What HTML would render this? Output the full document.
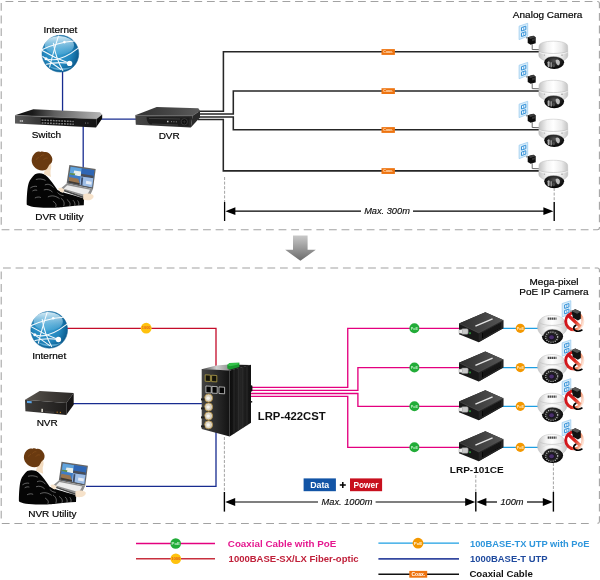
<!DOCTYPE html>
<html>
<head>
<meta charset="utf-8">
<title>LRP-422CST Application</title>
<style>
html,body{margin:0;padding:0;background:#fff;}
body{width:600px;height:580px;overflow:hidden;font-family:"Liberation Sans",sans-serif;}
svg{display:block;}
text{font-family:"Liberation Sans",sans-serif;}
svg{will-change:transform;}
.lbl{font-size:9.4px;fill:#000;stroke:#000;stroke-width:0.18px;}
.bold{font-size:9.4px;font-weight:bold;fill:#111;}
.dim{font-size:8.7px;font-style:italic;fill:#111;stroke:#111;stroke-width:0.15px;}
.leg{font-size:9.6px;font-weight:bold;}
</style>
</head>
<body>
<svg width="600" height="580" viewBox="0 0 600 580">
<defs>
  <!-- gradients -->
  <radialGradient id="gGlobe" cx="0.42" cy="0.45" r="0.62">
    <stop offset="0" stop-color="#3ba0d2"/>
    <stop offset="0.6" stop-color="#2286bd"/>
    <stop offset="0.88" stop-color="#0f6498"/>
    <stop offset="1" stop-color="#0a4f80"/>
  </radialGradient>
  <linearGradient id="gGloss" x1="0" y1="0" x2="0" y2="1">
    <stop offset="0" stop-color="#e8f6fc" stop-opacity="0.92"/>
    <stop offset="1" stop-color="#7cc6ea" stop-opacity="0.2"/>
  </linearGradient>
  <linearGradient id="gArrow" x1="0" y1="0" x2="0" y2="1">
    <stop offset="0" stop-color="#c9c9c9"/>
    <stop offset="1" stop-color="#6a6a6a"/>
  </linearGradient>
  <linearGradient id="gSwTop" x1="0" y1="0" x2="1" y2="0">
    <stop offset="0" stop-color="#0e0e0e"/>
    <stop offset="0.2" stop-color="#1a1a1a"/>
    <stop offset="0.45" stop-color="#5e5e5e"/>
    <stop offset="0.8" stop-color="#979797"/>
    <stop offset="1" stop-color="#b8b8b8"/>
  </linearGradient>
  <linearGradient id="gSwFront" x1="0" y1="0" x2="1" y2="0">
    <stop offset="0" stop-color="#5c5c5c"/>
    <stop offset="0.25" stop-color="#3a3a3a"/>
    <stop offset="0.6" stop-color="#1e1e1e"/>
    <stop offset="1" stop-color="#141414"/>
  </linearGradient>
  <linearGradient id="gDvrTop" x1="0" y1="0" x2="1" y2="0">
    <stop offset="0" stop-color="#303030"/>
    <stop offset="0.6" stop-color="#484848"/>
    <stop offset="1" stop-color="#5c5c5c"/>
  </linearGradient>
  <linearGradient id="gDvrFront" x1="0" y1="0" x2="1" y2="0">
    <stop offset="0" stop-color="#464646"/>
    <stop offset="0.5" stop-color="#343434"/>
    <stop offset="1" stop-color="#262626"/>
  </linearGradient>
  <linearGradient id="gCamBody" x1="0" y1="0" x2="1" y2="0">
    <stop offset="0" stop-color="#c2c2c2"/>
    <stop offset="0.28" stop-color="#f2f2f2"/>
    <stop offset="0.5" stop-color="#ffffff"/>
    <stop offset="0.78" stop-color="#ececec"/>
    <stop offset="1" stop-color="#c4c4c4"/>
  </linearGradient>
  <radialGradient id="gLens" cx="0.5" cy="0.4" r="0.6">
    <stop offset="0" stop-color="#555"/>
    <stop offset="0.6" stop-color="#1c1c1c"/>
    <stop offset="1" stop-color="#000"/>
  </radialGradient>
  <linearGradient id="gNo" x1="0" y1="0.3" x2="1" y2="0.6">
    <stop offset="0" stop-color="#d0101a"/>
    <stop offset="0.5" stop-color="#dc2a20"/>
    <stop offset="0.78" stop-color="#f2906a"/>
    <stop offset="1" stop-color="#fde3d6"/>
  </linearGradient>
  <linearGradient id="gNo2" gradientUnits="userSpaceOnUse" x1="-6" y1="-6" x2="6" y2="6">
    <stop offset="0" stop-color="#cf0f1a"/>
    <stop offset="0.55" stop-color="#dc2a20"/>
    <stop offset="1" stop-color="#f4a07c"/>
  </linearGradient>
  <linearGradient id="gConvTop" x1="0" y1="0" x2="1" y2="0">
    <stop offset="0" stop-color="#2e2e2e"/>
    <stop offset="1" stop-color="#555"/>
  </linearGradient>
  <linearGradient id="gIndFront" x1="0" y1="0" x2="1" y2="0">
    <stop offset="0" stop-color="#444"/>
    <stop offset="0.5" stop-color="#2c2c2c"/>
    <stop offset="1" stop-color="#121212"/>
  </linearGradient>
  <linearGradient id="gNvrTop" x1="0" y1="0" x2="1" y2="0">
    <stop offset="0" stop-color="#5a5650"/>
    <stop offset="0.5" stop-color="#403c38"/>
    <stop offset="1" stop-color="#2c2a28"/>
  </linearGradient>
  <linearGradient id="gNvrFront" x1="0" y1="0" x2="1" y2="0">
    <stop offset="0" stop-color="#3e3c3a"/>
    <stop offset="1" stop-color="#1e1c1b"/>
  </linearGradient>
  <linearGradient id="gIndTop" x1="0" y1="0" x2="1" y2="0">
    <stop offset="0" stop-color="#3a3a3a"/>
    <stop offset="0.3" stop-color="#cfcfcf"/>
    <stop offset="0.52" stop-color="#9a9a9a"/>
    <stop offset="0.6" stop-color="#222"/>
    <stop offset="1" stop-color="#161616"/>
  </linearGradient>
  <linearGradient id="gIndSide" x1="0" y1="0" x2="1" y2="0">
    <stop offset="0" stop-color="#0c0c0c"/>
    <stop offset="0.5" stop-color="#252525"/>
    <stop offset="1" stop-color="#111"/>
  </linearGradient>

  <!-- globe centred at 0,0 r=18.5 -->
  <g id="globe">
    <circle r="18.4" fill="url(#gGlobe)" stroke="#15669b" stroke-width="0.5"/>
    <ellipse cx="-1" cy="-8.4" rx="14.6" ry="9.4" fill="url(#gGloss)"/>
    <path d="M-12,12 C-6,17.6 6,18.4 13,12.4 C7,15.4 -5,15.4 -12,12 Z" fill="#8fd3f2" opacity="0.55"/>
    <g fill="none" stroke="#fff" stroke-width="1.05" stroke-linecap="round" opacity="0.95">
      <path d="M-18.4,-4 C-9,-8.6 2,-11.6 14,-12.6"/>
      <path d="M-2,-17.6 C-5,-8 -8.6,4 -10.8,13.4"/>
      <path d="M-7,-10.4 C-5.4,-1 -2,9 2.4,16.8"/>
      <path d="M-18.2,-3.2 C-9,2.4 0,6.4 9,9.6"/>
      <path d="M-14.6,5 C-5,8.4 7,3 17.8,-5.6"/>
      <path d="M-17.6,2.8 C-11,7.6 -5,12 0.6,15.8"/>
      <path d="M-14.2,10.6 C-6,8.6 2,8.6 9,9.6"/>
    </g>
    <circle cx="9.2" cy="9.7" r="2.7" fill="#fff"/>
    <circle cx="4" cy="-11.6" r="1.3" fill="#fff"/>
    <circle cx="-14.4" cy="5" r="1.5" fill="#fff"/>
  </g>

  <!-- coax tag centred at 0,0 -->
  <g id="coax">
    <rect x="-6.7" y="-2.9" width="13.4" height="5.8" fill="#ee7410"/>
    <text x="0" y="1.3" font-size="3.6" font-weight="bold" fill="#ffe9d0" text-anchor="middle">Coax.</text>
  </g>

  <!-- wall outlet, local coords top-left at 0,0 (w 8.6, h 16.3) -->
  <g id="outlet">
    <polygon points="0,2.85 8.6,0 8.6,12.9 0,16.3" fill="#d9edfa" stroke="#94c9ef" stroke-width="0.7"/>
    <g fill="#f2f9fe" stroke="#2d8dd6" stroke-width="0.95">
      <polygon points="2.4,4.3 6.7,2.9 6.7,6.3 2.4,7.7"/>
      <polygon points="2.4,9.8 6.7,8.4 6.7,11.8 2.4,13.2"/>
    </g>
    <path d="M4.6,3.9 V6.7 M4.6,9.4 V12.2" stroke="#2d8dd6" stroke-width="0.7"/>
  </g>

  <!-- power adapter, local coords -->
  <g id="adapter">
    <polygon points="0,1.6 5.6,0 8,1.6 8,7.6 3,9 0,7.2" fill="#0c0c0c"/>
    <polygon points="0,1.6 5.6,0 8,1.6 2.8,3.2" fill="#3c3c3c"/>
    <polygon points="4.4,3.4 7.6,2.4 7.6,4.6 4.4,5.6" fill="#4a4a4a" opacity="0.6"/>
    <rect x="-1.7" y="1.4" width="2" height="1.3" fill="#8a8a8a"/>
  </g>

  <!-- analog dome camera: local origin at (left x of body, coax line y) -->
  <g id="acam">
    <use href="#outlet" x="-19.9" y="-28.6"/>
    <use href="#adapter" x="-11.3" y="-16.2"/>
    <path d="M-6.8,-7.6 L-6.8,-2.4 L0.5,-2.2" fill="none" stroke="#6a6a6a" stroke-width="1"/>
    <!-- lens dome -->
    <ellipse cx="15.2" cy="10.4" rx="9.9" ry="6.8" fill="url(#gLens)"/>
    <path d="M8.6,10.4 C9.4,9 10.4,9 10.6,10.4 L10.6,14.6 C10,15.6 9.2,15.4 8.6,14.2 Z" fill="#b0b0b0"/>
    <path d="M11.4,10.8 C12,9.8 12.8,9.8 13,10.8 L13,15.2 C12.4,15.8 11.8,15.8 11.4,15 Z" fill="#8c8c8c"/>
    <path d="M16.6,8.4 C17.8,6.8 20,7.4 20.8,9.6 C21.2,11.6 20.4,13.4 19.2,13.6 C17.6,13 16.6,10.8 16.6,8.4 Z" fill="#bdbdbd"/>
    <ellipse cx="14.6" cy="13.6" rx="1.4" ry="1.8" fill="#4a4a4a"/>
    <!-- body -->
    <path d="M0,-5.6 C0,-9 6,-10.7 14.3,-10.7 C22.6,-10.7 28.6,-9 28.6,-5.6 L28.8,3.6 C28.8,5.6 27,7.4 24.8,8.4 C22,5.4 18,4.5 14.6,4.5 C11,4.5 7.2,5.4 5.2,8.4 C2.4,7.4 -0.2,5.6 -0.2,3.6 Z" fill="url(#gCamBody)" stroke="#bababa" stroke-width="0.5"/>
    <path d="M0,-0.6 C5,2.3 23.6,2.3 28.7,-0.6" fill="none" stroke="#c2c2c2" stroke-width="0.7"/>
    <path d="M0.2,0.4 C5,3.3 23.6,3.3 28.6,0.4" fill="none" stroke="#fff" stroke-width="0.6"/>
    <circle cx="5.4" cy="3.2" r="0.6" fill="#a8a8a8"/>
    <circle cx="23" cy="3.2" r="0.7" fill="#8a8a8a"/>
  </g>

  <!-- PoE IP camera: local origin at (left x of body, line y) -->
  <g id="pcam">
    <use href="#outlet" x="24.9" y="-27.6"/>
    <!-- lens dome -->
    <ellipse cx="15.2" cy="8.2" rx="10.6" ry="7.5" fill="url(#gLens)"/>
    <ellipse cx="14.4" cy="8.9" rx="6" ry="5.1" fill="#222" stroke="#e6e6e6" stroke-width="1.1" stroke-dasharray="0.9 1.3"/>
    <ellipse cx="14.3" cy="9" rx="3.4" ry="3" fill="#1a1424"/>
    <ellipse cx="14.3" cy="8.9" rx="2.3" ry="2" fill="#4a2f6e"/>
    <!-- body -->
    <path d="M0.2,-1 C0.2,-3 0.8,-5 1.6,-6.4 C3,-10.6 8,-13 14.6,-13 C21.4,-13 26.4,-10.6 28,-6.2 C29.2,-4.6 29.6,-2.6 29.6,-0.6 C29.6,2 28,4.2 25.8,5.6 C23.4,2.4 19.4,0.9 15.2,0.9 C11,0.9 7.4,2.6 5.6,7.6 C2.6,5.6 0.2,2.6 0.2,-1 Z" fill="url(#gCamBody)" stroke="#bcbcbc" stroke-width="0.5"/>
    <path d="M1.5,-6 C6,-1.8 23,-1.8 28.1,-6" fill="none" stroke="#c6c6c6" stroke-width="0.8"/>
    <path d="M2.4,1.6 C6,-1.6 10,-2.6 14.6,-2.6 C19.4,-2.6 24,-1.6 27.6,1.2" fill="none" stroke="#d6d6d6" stroke-width="0.6"/>
    <path d="M10.4,-9.6 H19.2" stroke="#4a4a4a" stroke-width="2.2" stroke-dasharray="1.5 0.45"/>
    <!-- adapter + no sign -->
    <g transform="translate(37,-7)">
      <circle r="8.6" fill="none" stroke="url(#gNo)" stroke-width="2.9"/>
      <line x1="-6.2" y1="-6" x2="6.2" y2="5.4" stroke="url(#gNo2)" stroke-width="3.2"/>
      <polygon points="-2.9,-10.4 1,-12 6.5,-9.6 6.5,-2.6 3.6,-0.9 -1.4,-3.6" fill="#121212"/>
      <polygon points="-2.9,-10.4 1,-12 6.5,-9.6 2.8,-7.6" fill="#555"/>
      <polygon points="-4.4,-10.6 -2.6,-11.2 -2.6,-9.6 -4.4,-9" fill="#9a9a9a"/>
      <path d="M1.4,4.1 C-0.8,5 -1.2,7.6 0.6,8.9 C2.6,10.2 5.6,10 7.6,8.8" fill="none" stroke="#000" stroke-width="1.7" stroke-linecap="round"/>
    </g>
  </g>

  <!-- LRP-101CE converter: origin at (left x, line y) -->
  <g id="conv">
    <polygon points="0,-5 26.3,-16.3 44.3,-8.3 44.3,-0.3 19.7,13.7 0,5.7" fill="#181818"/>
    <polygon points="0,-5 26.3,-16.3 44.3,-8.3 19.7,4.4" fill="url(#gConvTop)"/>
    <polygon points="19.7,4.4 44.3,-8.3 44.3,-0.3 19.7,13.7" fill="#242424"/>
    <polygon points="23,4.4 42,-5.4 42,-0.8 23,10" fill="#060606"/>
    <g stroke="#383838" stroke-width="0.7">
      <line x1="25" y1="3.2" x2="25" y2="9"/><line x1="27" y1="2.2" x2="27" y2="7.8"/>
      <line x1="29" y1="1.2" x2="29" y2="6.6"/><line x1="31" y1="0.2" x2="31" y2="5.4"/>
      <line x1="33" y1="-0.8" x2="33" y2="4.2"/><line x1="35" y1="-1.8" x2="35" y2="3"/>
      <line x1="37" y1="-2.8" x2="37" y2="1.8"/><line x1="39" y1="-3.8" x2="39" y2="0.6"/>
      <line x1="41" y1="-4.8" x2="41" y2="-0.4"/>
    </g>
    <path d="M0,-5 L19.7,4.4 L44.3,-8.3" fill="none" stroke="#5a5a5a" stroke-width="0.5"/>
    <line x1="16.4" y1="-2.4" x2="33.6" y2="-9.6" stroke="#e4e4e4" stroke-width="1.5"/>
    <rect x="2.4" y="0.2" width="6.8" height="5.6" rx="1.4" fill="#c9c9c9" stroke="#7a7a7a" stroke-width="0.5"/>
    <rect x="0" y="1.3" width="3.4" height="3.4" fill="#e6e6e6" stroke="#8a8a8a" stroke-width="0.4"/>
    <rect x="10.4" y="3.8" width="1.2" height="1.8" fill="#2ecc40"/>
  </g>

  <!-- person with laptop: origin at hair top-left approx (0,0) -->
  <g id="person">
    <!-- laptop -->
    <polygon points="38.15,13.2 64.5,17.1 61.8,37.2 35.4,31.8" fill="#666"/>
    <polygon points="39.5,15 63.1,18.5 60.8,35.7 37,30.8" fill="#3a7ac8"/>
    <!-- TL quad -->
    <polygon points="39.5,15 50.6,16.65 49.6,24.6 38.3,22.7" fill="#62a4dc"/>
    <polygon points="43,18.8 49.9,19.6 49.6,24.6 42,23.3" fill="#e9efe9"/>
    <polygon points="38.6,21.2 44,21.6 43.6,23.6 38.3,22.7" fill="#5f8f4a"/>
    <!-- TR quad -->
    <polygon points="50.6,16.65 63.1,18.5 62.05,26.4 49.6,24.6" fill="#2f66b4"/>
    <polygon points="50,22 62.3,24 62.05,26.4 49.6,24.6" fill="#4a4e58"/>
    <!-- BL quad -->
    <polygon points="38.3,22.7 49.6,24.6 48.5,33.2 37,30.8" fill="#3f7cc6"/>
    <polygon points="38,25.2 47,27 48.6,32 48.5,33.2 37,30.8" fill="#9a7650"/>
    <polygon points="37.3,29 48.7,31.4 48.5,33.2 37,30.8" fill="#3e3a36"/>
    <!-- BR quad -->
    <polygon points="49.6,24.6 62.05,26.4 60.8,35.7 48.5,33.2" fill="#9dbde6"/>
    <polygon points="50.2,25.4 52,25.7 51.2,33.6 49.4,33.3" fill="#3d4f6e"/>
    <polygon points="55,29 60.5,30 60.2,33 54.6,32" fill="#e6ecf4"/>
    <polygon points="48.5,33.2 60.8,35.7 60.7,36.4 48.4,34" fill="#555"/>
    <!-- base -->
    <polygon points="35.4,31.8 61.8,37.2 57.5,46.5 29.6,36.8" fill="#8f8f8f"/>
    <polygon points="36,33.4 58.8,38 55.6,43.6 32.4,37" fill="#ececec"/>
    <polygon points="29.6,36.8 57.5,46.5 57.3,48.2 29.6,38.5" fill="#484848"/>
    <!-- body -->
    <path d="M3.8,22.4 C1,25 -1.4,28 -2.4,31 C-3.8,35 -4.5,44 -4.5,52.6 C-3,54.6 6,55.9 16,56 C24,56 29,55.7 32,55.2 C38,54.6 45,53.6 52.6,53.4 L52.8,46.6 C46,44.6 40,43 33.8,41.2 C31,40.4 28,39.4 26.3,38.2 C24.6,35.6 22.8,33 21,30.6 C19.6,28.8 18,27 16.6,25.4 C15.4,24 14,23 12.8,22.4 C10,21.4 6.6,21.2 3.8,22.4 Z" fill="#050505"/>
    <g fill="none" stroke="#e0e0e0" stroke-width="0.5" stroke-linecap="round" opacity="0.85">
      <path d="M5,27.6 C8,26.8 11,27 14,28.4"/>
      <path d="M-0.6,36 C1.4,34.6 3.4,34.2 5.4,34.6"/>
      <path d="M1.6,39 C3,38.2 4.4,38 5.6,38.4"/>
      <path d="M14,33 C17,31.6 20,33 22,35.4"/>
      <path d="M13,38 C16,37 19,38 21,40"/>
      <path d="M4,46 C6,45 8,45 9.4,45.6"/>
      <path d="M17,45 C21,43 25,44.4 28,46.6"/>
      <path d="M30,46.6 C32.6,48.6 33.6,51 32.6,54"/>
      <path d="M36,48 C38.6,49.8 39.6,52 38.6,54"/>
      <path d="M42,48.6 C43.6,50.2 44.2,52 43.6,53.6"/>
      <path d="M46.6,49 C47.6,50.4 48,51.6 47.6,53"/>
      <path d="M22,49.6 C24.4,51 25.6,53 24.6,54.8"/>
      <path d="M26.6,41 C28,42.6 30,43.6 32,43.8"/>
    </g>
    <!-- neck/face -->
    <path d="M13.6,11.6 L19.4,10.8 C20.6,13.6 20.2,16.6 19.3,18.8 C19.1,20.8 19.4,23 19.8,25.2 L12.4,22.2 C13.6,19.6 14,16 13.6,11.6 Z" fill="#f3dcc0"/>
    <!-- hands -->
    <path d="M52,42.8 C55,41.2 60,41.6 62.2,43.6 C63,45.6 61,47.6 58,48.4 C55.6,48.8 53.4,48.4 52,47.8 Z" fill="#f6e2ca"/>
    <path d="M27,36.4 C29,35.2 31.6,36 33.4,38 L31.6,41 C29.6,40.4 27.6,39.2 27,36.4 Z" fill="#f6e2ca"/>
    <!-- hair -->
    <path d="M3,2.2 C4.4,0.2 7,-0.8 9,0.2 C10.4,-0.6 12,-0.4 13,0.3 C15.6,-0.4 18.4,1 19.6,3.4 C21.4,5.4 21.6,8.4 20.6,10.4 C19.8,11.8 18.6,12.2 17.8,13.4 C17,14.8 16.2,17 14.6,18 C12.2,19 8.8,18.7 6.6,17.7 C3.6,16.2 1.4,13.6 0.8,11 C0,8.6 0.6,4.6 3,2.2 Z" fill="#6a3a10"/>
    <path d="M9,5 C10,3.4 11.6,2.8 13,3.2 M12.4,8 C13.4,6.4 15,6 16.4,6.4 M5,8 C5.6,6.6 6.6,5.8 7.6,5.6" fill="none" stroke="#8d5420" stroke-width="0.6"/>
  </g>

  <!-- dimension arrowheads -->
  <polygon id="arrL" points="0,0 10,-3.9 10,3.9" fill="#000"/>
  <polygon id="arrR" points="0,0 -10,-3.9 -10,3.9" fill="#000"/>
</defs>

<rect width="600" height="580" fill="#fff"/>

<!-- ================= TOP PANEL ================= -->
<g fill="none" stroke="#a2a2a2" stroke-width="1.05" stroke-dasharray="7.8 4.79">
  <path d="M5.5,1.4 H597.4 A2,2 0 0 1 599.4,3.4 V227.7 A2,2 0 0 1 597.4,229.7 H593"/>
  <path d="M1.6,229.7 H589"/>
  <path d="M1.2,3 V225"/>
</g>

<!-- blue lines -->
<g stroke="#182c90" stroke-width="1.3" fill="none">
  <line x1="62.55" y1="70" x2="62.55" y2="111"/>
  <line x1="100" y1="119.05" x2="136" y2="119.05"/>
  <line x1="83.2" y1="125" x2="83.2" y2="168"/>
</g>

<!-- coax lines -->
<g stroke="#262626" stroke-width="1.55" fill="none" stroke-linejoin="miter">
  <path d="M198,111.15 L223.4,111.15 L223.4,51.8 L540,51.8"/>
  <path d="M198,113.9 L233.3,113.9 L233.3,90.95 L540,90.95"/>
  <path d="M198,116.9 L233.3,116.9 L233.3,129.8 L540,129.8"/>
  <path d="M198,119.5 L223.3,119.5 L223.3,170.85 L540,170.85"/>
</g>
<use href="#coax" x="388.2" y="52"/>
<use href="#coax" x="388.2" y="91.1"/>
<use href="#coax" x="388.2" y="130"/>
<use href="#coax" x="388.2" y="171.05"/>

<!-- globe -->
<use href="#globe" x="60.4" y="53.7"/>
<text class="lbl" transform="translate(60.4,32.6) scale(1.065,1)" text-anchor="middle">Internet</text>

<!-- switch -->
<g id="switch">
  <polygon points="33.3,109.2 100,112.3 102.2,114.4 96.6,118.9 15,115.3" fill="url(#gSwTop)"/>
  <polygon points="15,115.3 96.6,118.9 96,127.4 15,123.4" fill="url(#gSwFront)"/>
  <polygon points="96.6,118.9 102.2,114.4 102.2,118.6 96,127.4" fill="#0b0b0b"/>
  <polygon points="40.8,118.1 74.2,119.4 74.2,125.6 40.8,124" fill="#0a0a0a"/>
  <g stroke="#808080" stroke-width="1.5" stroke-dasharray="1.9 0.9">
    <line x1="41.6" y1="120.1" x2="73.8" y2="121.5"/>
    <line x1="41.6" y1="122.9" x2="73.8" y2="124.3"/>
  </g>
  <path d="M15,115.3 L96.6,118.9" stroke="#8a8a8a" stroke-width="0.5"/>
  <rect x="19.8" y="120.2" width="3.2" height="1.6" fill="#d8d8d8"/><rect x="20.6" y="120.6" width="1.6" height="0.8" fill="#333"/>
  <rect x="85" y="122.6" width="1" height="0.9" fill="#888"/>
  <rect x="87.4" y="122.6" width="1" height="0.9" fill="#888"/>
</g>
<text class="lbl" transform="translate(46.4,138.2) scale(1.065,1)" text-anchor="middle">Switch</text>

<!-- DVR -->
<g id="dvr">
  <polygon points="156.7,107 198.3,108.3 200,110.8 192.5,115.8 135.3,115.3" fill="url(#gDvrTop)"/>
  <polygon points="135.3,115.3 192.5,115.8 190.8,127.5 135.8,124.7" fill="url(#gDvrFront)"/>
  <polygon points="192.5,115.8 200,110.8 200,117.5 190.8,127.5" fill="#2a2a2a"/>
  <path d="M146.6,117 L189.6,117.6 L188.6,126 L151,124.6 C148,124 146.4,120 146.6,117 Z" fill="#1c1c1c"/>
  <path d="M135.3,115.3 L192.5,115.8 L200,110.8" fill="none" stroke="#6a6a6a" stroke-width="0.5"/>
  <path d="M149,118.4 L180,119" stroke="#4a4a4a" stroke-width="0.7" fill="none"/>
  <path d="M152,124 L178,125" stroke="#484848" stroke-width="0.7" fill="none"/>
  <circle cx="184.3" cy="121.8" r="3.1" fill="#0c0c0c" stroke="#505050" stroke-width="0.6"/>
  <path d="M182.4,121.8 H186.2 M184.3,119.9 V123.7" stroke="#3c3c3c" stroke-width="0.6"/>
  <rect x="167" y="120.8" width="1.5" height="1.5" fill="#c8c8c8"/>
  <rect x="171" y="121" width="1" height="1.2" fill="#777"/>
  <rect x="173.4" y="121.1" width="1" height="1.2" fill="#777"/>
  <rect x="175.8" y="121.2" width="1" height="1.2" fill="#777"/>
</g>
<text class="lbl" transform="translate(169.2,138.8) scale(1.065,1)" text-anchor="middle">DVR</text>

<!-- person -->
<use href="#person" x="31.2" y="151.8"/>
<text class="lbl" transform="translate(59.4,220) scale(1.065,1)" text-anchor="middle">DVR Utility</text>

<!-- analog cameras -->
<text class="lbl" transform="translate(547.6,18) scale(1.065,1)" text-anchor="middle">Analog Camera</text>
<use href="#acam" x="539" y="51.9"/>
<use href="#acam" x="539" y="91"/>
<use href="#acam" x="539" y="129.9"/>
<use href="#acam" x="539" y="170.95"/>

<!-- dimension -->
<g stroke="#000" fill="none">
  <line x1="224.6" y1="177" x2="224.6" y2="202" stroke="#999" stroke-width="0.9" stroke-dasharray="3 1.6"/>
  <line x1="224.6" y1="202" x2="224.6" y2="221" stroke-width="1.3"/>
  <line x1="554.2" y1="188" x2="554.2" y2="202" stroke="#999" stroke-width="0.9" stroke-dasharray="3 1.6"/>
  <line x1="554.2" y1="202" x2="554.2" y2="221" stroke-width="1.4"/>
  <line x1="230" y1="211.2" x2="361" y2="211.2" stroke-width="1.2"/>
  <line x1="413" y1="211.2" x2="548" y2="211.2" stroke-width="1.2"/>
</g>
<use href="#arrL" x="225.4" y="211.2"/>
<use href="#arrR" x="553.4" y="211.2"/>
<text class="dim" transform="translate(387,214.4) scale(1.065,1)" text-anchor="middle">Max. 300m</text>

<!-- big arrow -->
<polygon points="293,235.4 307.6,235.4 307.6,249.8 315.8,249.8 300.4,260.8 285.2,249.8 293,249.8" fill="url(#gArrow)"/>

<!-- ================= BOTTOM PANEL ================= -->
<g fill="none" stroke="#a2a2a2" stroke-width="1.05" stroke-dasharray="7.8 4.79">
  <path d="M3,268 H597.4 A2,2 0 0 1 599.4,270 V521.4 A2,2 0 0 1 597.4,523.4 H593.5"/>
  <path d="M1.8,523.4 H589"/>
  <path d="M1.2,271.5 V519"/>
</g>

<!-- red fiber -->
<path d="M67,328.4 L216,328.4 L216,368" fill="none" stroke="#c40c2a" stroke-width="1.3"/>
<circle cx="146.2" cy="328.2" r="5.4" fill="#ffc20e"/>
<text x="146.2" y="329.3" font-size="3.9" font-weight="bold" fill="#e0601a" text-anchor="middle">1000</text>

<!-- blue UTP -->
<g stroke="#182c90" stroke-width="1.3" fill="none">
  <line x1="73" y1="403.6" x2="204" y2="403.6"/>
  <path d="M86,486.4 L216,486.4 L216,432"/>
</g>

<!-- magenta coax w/ PoE -->
<g stroke="#e4007f" stroke-width="1.35" fill="none">
  <path d="M248,387.4 L347.75,387.4 L347.75,328.3 L460,328.3"/>
  <path d="M248,390.4 L357.9,390.4 L357.9,367.55 L460,367.55"/>
  <path d="M248,393.45 L357.9,393.45 L357.9,406.3 L460,406.3"/>
  <path d="M248,396.3 L347.75,396.3 L347.75,447.3 L460,447.3"/>
</g>
<!-- light-blue UTP w/ PoE -->
<g stroke="#1d9fe3" stroke-width="1.25">
  <line x1="502" y1="328.3" x2="538" y2="328.3"/>
  <line x1="502" y1="367.55" x2="538" y2="367.55"/>
  <line x1="502" y1="406.3" x2="538" y2="406.3"/>
  <line x1="502" y1="447.3" x2="538" y2="447.3"/>
</g>

<!-- PoE badges -->
<g id="badges" font-size="3.7" font-weight="bold" text-anchor="middle">
  <g fill="#22ac38">
    <circle cx="414.4" cy="328.3" r="5"/><circle cx="414.4" cy="367.55" r="5"/>
    <circle cx="414.4" cy="406.3" r="5"/><circle cx="414.4" cy="447.3" r="5"/>
  </g>
  <g fill="#bff0c4">
    <text x="414.4" y="329.6">PoE</text><text x="414.4" y="368.85">PoE</text>
    <text x="414.4" y="407.6">PoE</text><text x="414.4" y="448.6">PoE</text>
  </g>
  <g fill="#f39800">
    <circle cx="520.3" cy="328.3" r="4.6"/><circle cx="520.3" cy="367.55" r="4.6"/>
    <circle cx="520.3" cy="406.3" r="4.6"/><circle cx="520.3" cy="447.3" r="4.6"/>
  </g>
  <g fill="#ffe6c0">
    <text x="520.3" y="329.6">PoE</text><text x="520.3" y="368.85">PoE</text>
    <text x="520.3" y="407.6">PoE</text><text x="520.3" y="448.6">PoE</text>
  </g>
</g>

<!-- globe -->
<use href="#globe" x="49.2" y="329.8"/>
<text class="lbl" transform="translate(49.2,359.2) scale(1.065,1)" text-anchor="middle">Internet</text>

<!-- NVR -->
<g id="nvr">
  <polygon points="25,399.7 39.7,390.9 73.7,392.9 66.3,403.1" fill="url(#gNvrTop)"/>
  <polygon points="25,399.7 66.3,403.1 66.3,415 25.4,411.3" fill="url(#gNvrFront)"/>
  <polygon points="66.3,403.1 73.7,392.9 73.7,404.7 66.3,415" fill="#161414"/>
  <polygon points="27,400.8 31.7,401.2 31.7,403.3 27,402.9" fill="#5aa6ea"/>
  <rect x="41.4" y="408.8" width="1.5" height="3.2" fill="#e8e4d8"/>
  <path d="M45,411.6 L54,412.3" stroke="#4a4846" stroke-width="0.6"/>
  <rect x="56.6" y="411.7" width="1.2" height="0.9" fill="#e08a1a"/>
  <rect x="59.8" y="411.9" width="1.2" height="0.9" fill="#e08a1a"/>
</g>
<text class="lbl" transform="translate(47.2,425.8) scale(1.065,1)" text-anchor="middle">NVR</text>

<!-- person 2 -->
<use href="#person" x="23.4" y="448.6" transform="translate(0,0)"/>
<text class="lbl" transform="translate(52.4,516.6) scale(1.065,1)" text-anchor="middle">NVR Utility</text>

<!-- LRP-422CST industrial switch -->
<g id="ind">
  <!-- side -->
  <polygon points="229.7,370.6 251,364.8 251,422.8 229.7,436.6" fill="url(#gIndSide)"/>
  <g stroke="#333" stroke-width="0.7">
    <line x1="234" y1="369.6" x2="234" y2="433.6"/>
    <line x1="238.4" y1="368.4" x2="238.4" y2="430.8"/>
    <line x1="242.8" y1="367.2" x2="242.8" y2="428"/>
    <line x1="247" y1="366" x2="247" y2="425.2"/>
  </g>
  <!-- top -->
  <polygon points="201.7,369.2 216.1,365.6 229,364.4 251,364.9 229.7,370.8" fill="url(#gIndTop)"/>
  <polygon points="227.3,365 229.6,362.9 239.4,362.7 239.4,367 230.4,369.6 227.3,368.4" fill="#1a9a30"/>
  <polygon points="227.3,365 229.6,362.9 239.4,362.7 237.4,364.8 230,366.2" fill="#34c24a"/>
  <!-- front -->
  <polygon points="201.7,369 229.7,370.6 229.7,436.6 201.7,429" fill="url(#gIndFront)"/>
  <!-- SFP slots -->
  <polygon points="205.2,374.8 210.4,375.1 210.4,381.5 205.2,381.2" fill="#15140a" stroke="#b5a24a" stroke-width="0.8"/>
  <polygon points="211.6,375.2 216.8,375.5 216.8,381.9 211.6,381.6" fill="#15140a" stroke="#b5a24a" stroke-width="0.8"/>
  <!-- RJ45 -->
  <polygon points="205.9,386 211.2,386.3 211.2,393 205.9,392.7" fill="#050505" stroke="#cfcfcf" stroke-width="0.8"/>
  <polygon points="212,386.4 217.2,386.7 217.2,393.4 212,393.1" fill="#050505" stroke="#cfcfcf" stroke-width="0.8"/>
  <polygon points="219,386.9 224.6,387.2 224.6,393.8 219,393.5" fill="#050505" stroke="#cfcfcf" stroke-width="0.8"/>
  <!-- BNC connectors -->
  <g>
    <circle cx="208.6" cy="398" r="4" fill="#d9d2c4" stroke="#b08a3a" stroke-width="0.8"/>
    <circle cx="208.6" cy="406.9" r="4" fill="#d9d2c4" stroke="#b08a3a" stroke-width="0.8"/>
    <circle cx="208.6" cy="415.9" r="4" fill="#d9d2c4" stroke="#b08a3a" stroke-width="0.8"/>
    <circle cx="208.6" cy="424.8" r="4" fill="#d9d2c4" stroke="#b08a3a" stroke-width="0.8"/>
    <circle cx="208.2" cy="398.2" r="1.7" fill="#f6f4ee"/>
    <circle cx="208.2" cy="407.1" r="1.7" fill="#f6f4ee"/>
    <circle cx="208.2" cy="416.1" r="1.7" fill="#f6f4ee"/>
    <circle cx="208.2" cy="425" r="1.7" fill="#f6f4ee"/>
    <rect x="201" y="398.4" width="3.6" height="2" fill="#222"/>
    <rect x="201" y="407.4" width="3.6" height="2" fill="#222"/>
    <rect x="201" y="416.4" width="3.6" height="2" fill="#222"/>
    <rect x="201" y="425.4" width="3.6" height="2" fill="#222"/>
  </g>
</g>
<polygon points="250.6,385 252.4,385.8 252.4,391 250.6,392" fill="#111"/>
<rect x="250.6" y="401" width="1.6" height="1.6" fill="#222"/>
<text class="bold" x="257.8" y="419.8" style="font-size:11.3px">LRP-422CST</text>

<!-- converters -->
<use href="#conv" x="459" y="328.5"/>
<use href="#conv" x="459" y="367.75"/>
<use href="#conv" x="459" y="406.5"/>
<use href="#conv" x="459" y="447.5"/>
<text class="bold" transform="translate(476.8,472.8) scale(1.065,1)" text-anchor="middle">LRP-101CE</text>

<!-- PoE cameras -->
<text class="lbl" transform="translate(554,284.8) scale(1.065,1)" text-anchor="middle">Mega-pixel</text>
<text class="lbl" transform="translate(554,295.4) scale(1.065,1)" text-anchor="middle">PoE IP Camera</text>
<use href="#pcam" x="537.3" y="328.3"/>
<use href="#pcam" x="537.3" y="367.55"/>
<use href="#pcam" x="537.3" y="406.3"/>
<use href="#pcam" x="537.3" y="447.3"/>

<!-- Data + Power -->
<rect x="303.6" y="478.4" width="32.3" height="12.8" fill="#1254a6"/>
<text x="310.2" y="487.9" font-size="9" font-weight="bold" fill="#fff" textLength="19" lengthAdjust="spacingAndGlyphs">Data</text>
<path d="M339.8,485.1 H345.8 M342.8,482.1 V488.1" stroke="#000" stroke-width="1.5" fill="none"/>
<rect x="350" y="478.4" width="32.1" height="12.8" fill="#c8101e"/>
<text x="353.4" y="487.9" font-size="9" font-weight="bold" fill="#fff" textLength="25" lengthAdjust="spacingAndGlyphs">Power</text>

<!-- dimension lines -->
<g stroke="#000" fill="none">
  <line x1="224.4" y1="437" x2="224.4" y2="492" stroke="#999" stroke-width="0.9" stroke-dasharray="3 1.6"/>
  <line x1="224.4" y1="492" x2="224.4" y2="511.6" stroke-width="1.4"/>
  <line x1="475.8" y1="475" x2="475.8" y2="492" stroke="#999" stroke-width="0.9" stroke-dasharray="3 1.6"/>
  <line x1="475.8" y1="492" x2="475.8" y2="511.6" stroke-width="1.4"/>
  <line x1="553.4" y1="463" x2="553.4" y2="492" stroke="#999" stroke-width="0.9" stroke-dasharray="3 1.6"/>
  <line x1="553.4" y1="492" x2="553.4" y2="511.6" stroke-width="1.4"/>
  <line x1="230" y1="502" x2="318" y2="502" stroke-width="1.2"/>
  <line x1="375.6" y1="502" x2="470" y2="502" stroke-width="1.2"/>
  <line x1="482" y1="502" x2="497" y2="502" stroke-width="1.2"/>
  <line x1="527" y1="502" x2="548" y2="502" stroke-width="1.2"/>
</g>
<use href="#arrL" x="225.2" y="502"/>
<use href="#arrR" x="475.2" y="502"/>
<use href="#arrL" x="476.4" y="502"/>
<use href="#arrR" x="552.8" y="502"/>
<text class="dim" transform="translate(347,505.2) scale(1.065,1)" text-anchor="middle">Max. 1000m</text>
<text class="dim" transform="translate(512,505.2) scale(1.065,1)" text-anchor="middle">100m</text>

<!-- ================= LEGEND ================= -->
<line x1="136" y1="543.5" x2="215" y2="543.5" stroke="#e4007f" stroke-width="1.4"/>
<circle cx="175.7" cy="543.5" r="5.3" fill="#22ac38"/>
<text x="175.7" y="545" font-size="4.2" font-weight="bold" fill="#c9f0cf" text-anchor="middle">PoE</text>
<text class="leg" x="227.8" y="547" fill="#e5188f" textLength="108.4" lengthAdjust="spacingAndGlyphs">Coaxial Cable with PoE</text>

<line x1="136" y1="558.8" x2="215" y2="558.8" stroke="#c8303e" stroke-width="1.6"/>
<circle cx="175.8" cy="558.8" r="5.3" fill="#ffc20e"/>
<text x="175.8" y="560.3" font-size="4.2" font-weight="bold" fill="#e0601a" text-anchor="middle">1000</text>
<text class="leg" x="228.6" y="562.1" fill="#c0203a" textLength="130" lengthAdjust="spacingAndGlyphs">1000BASE-SX/LX Fiber-optic</text>

<line x1="378.4" y1="543.2" x2="459" y2="543.2" stroke="#1d9fe3" stroke-width="1.3"/>
<circle cx="418" cy="543.2" r="5.4" fill="#f39800"/>
<text x="418" y="544.8" font-size="4.4" font-weight="bold" fill="#fff0d8" text-anchor="middle">PoE</text>
<text class="leg" x="470" y="546.7" fill="#2e96dc" textLength="119.4" lengthAdjust="spacingAndGlyphs">100BASE-TX UTP with PoE</text>

<line x1="378.4" y1="558.9" x2="459" y2="558.9" stroke="#3448a0" stroke-width="1.9"/>
<text class="leg" x="470" y="561.9" fill="#1f4a9e" textLength="77.6" lengthAdjust="spacingAndGlyphs">1000BASE-T UTP</text>

<line x1="378.4" y1="574.2" x2="459" y2="574.2" stroke="#111" stroke-width="1.5"/>
<rect x="409.3" y="570.9" width="17.9" height="6.8" fill="#ee7410"/>
<text x="418.3" y="576" font-size="5" font-weight="bold" fill="#fff" text-anchor="middle">Coax.</text>
<text class="leg" x="469.4" y="577.4" fill="#111" textLength="63.4" lengthAdjust="spacingAndGlyphs">Coaxial Cable</text>

</svg>
</body>
</html>
